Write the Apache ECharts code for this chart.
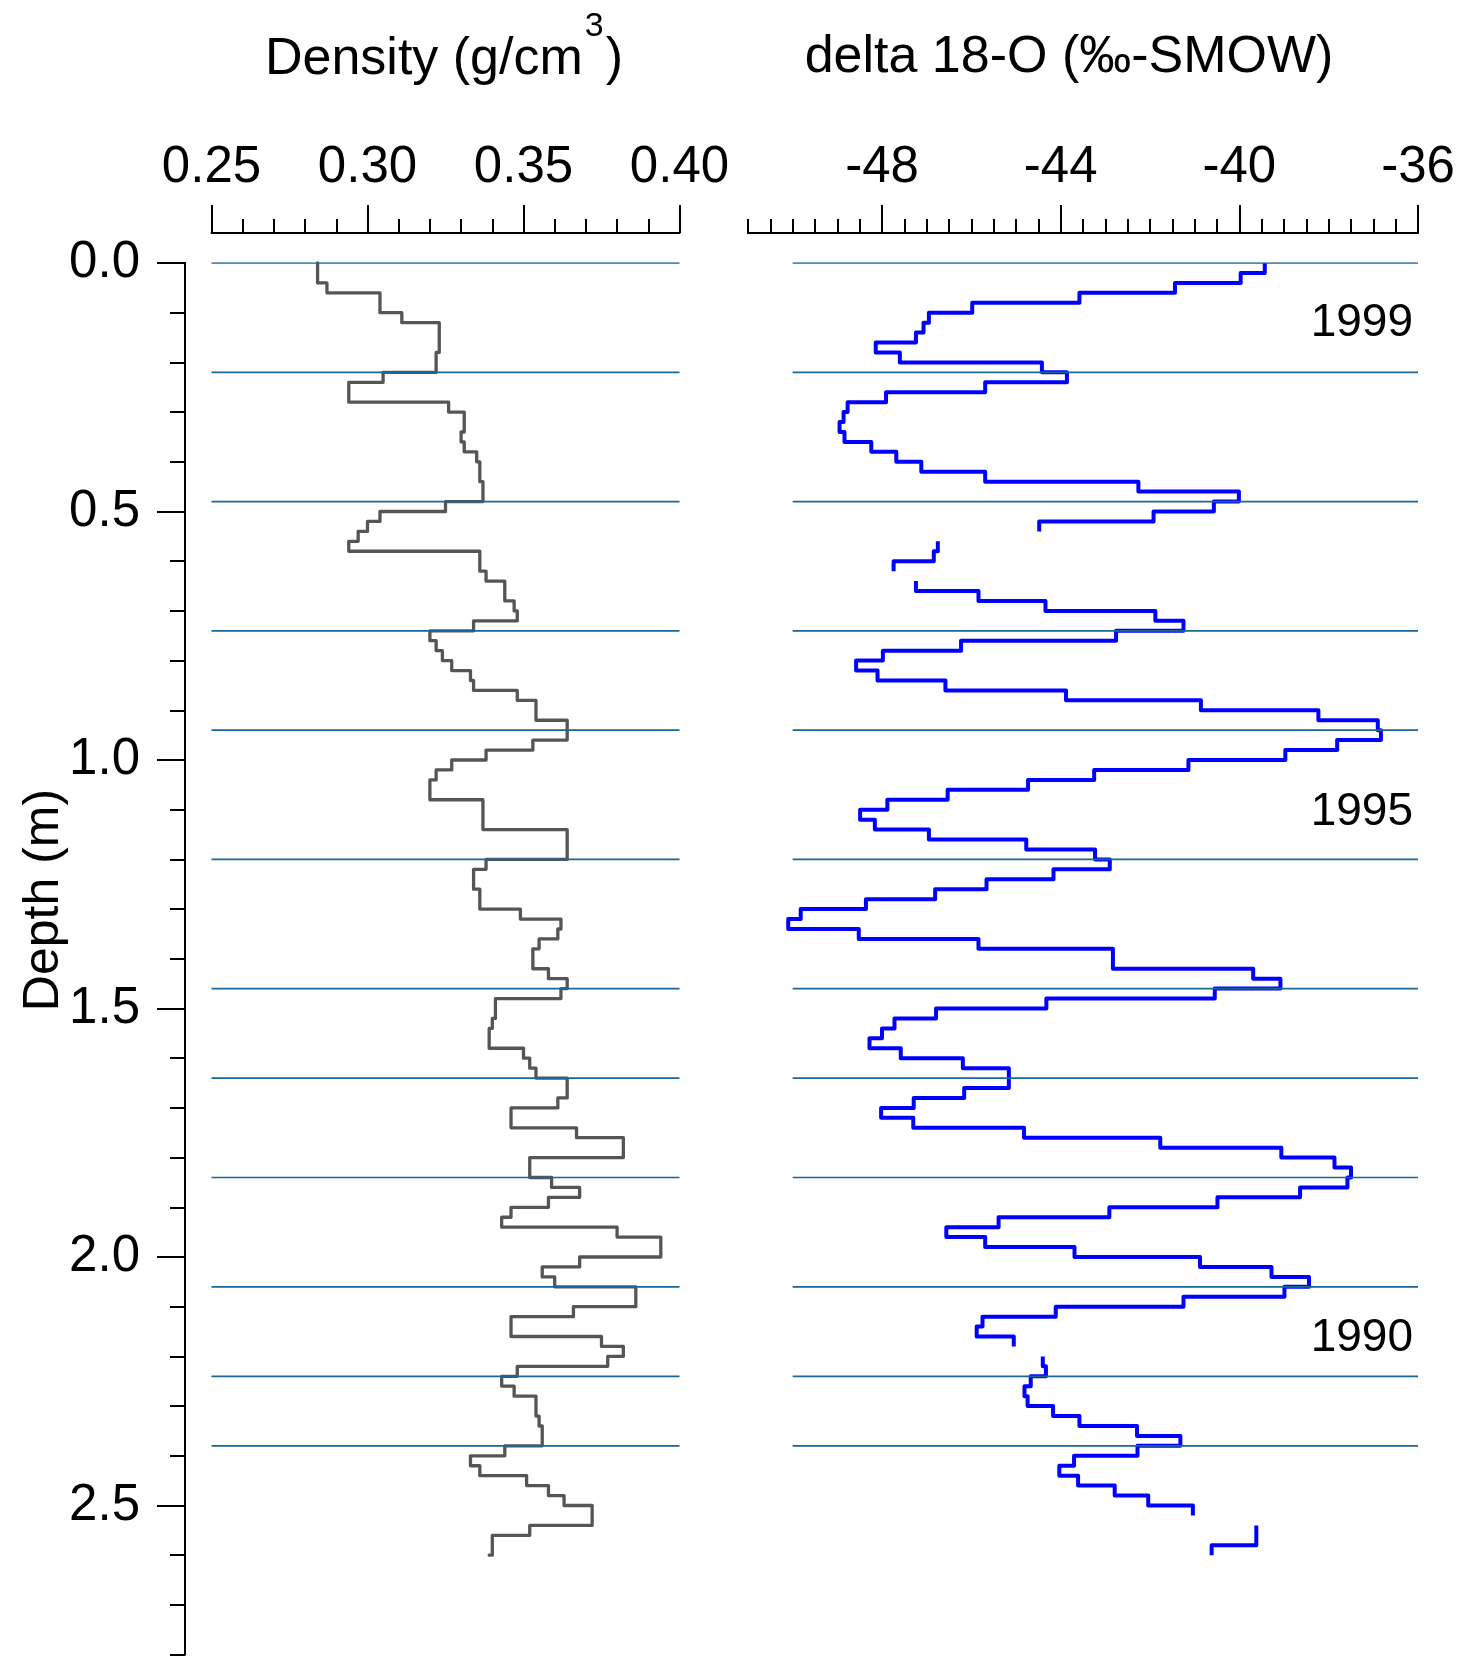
<!DOCTYPE html>
<html>
<head>
<meta charset="utf-8">
<title>Firn core profile: density and delta 18-O</title>
<script src="https://cdn.jsdelivr.net/npm/echarts@6/dist/echarts.min.js"></script>
<style>
  html, body { margin: 0; padding: 0; background: #ffffff; }
  #chart { width: 1459px; height: 1656px; }
</style>
</head>
<body>
<div id="chart"></div>
<script>
// Density profile: top depth of each sample interval (m) and its density (g/cm3).
const densityTop = [
  0.00, 0.04, 0.06, 0.10, 0.12, 0.18, 0.22, 0.24, 0.28, 0.30,
  0.34, 0.36, 0.38, 0.40, 0.44, 0.48, 0.50, 0.52, 0.54, 0.56,
  0.58, 0.62, 0.64, 0.68, 0.70, 0.72, 0.74, 0.76, 0.78, 0.80,
  0.82, 0.84, 0.86, 0.88, 0.92, 0.96, 0.98, 1.00, 1.02, 1.04,
  1.08, 1.14, 1.20, 1.22, 1.26, 1.30, 1.32, 1.34, 1.36, 1.38,
  1.42, 1.44, 1.46, 1.48, 1.52, 1.54, 1.58, 1.60, 1.62, 1.64,
  1.68, 1.70, 1.74, 1.76, 1.80, 1.84, 1.86, 1.88, 1.90, 1.92,
  1.94, 1.96, 2.00, 2.02, 2.04, 2.06, 2.10, 2.12, 2.16, 2.18,
  2.20, 2.22, 2.24, 2.26, 2.28, 2.32, 2.34, 2.38, 2.40, 2.42,
  2.44, 2.46, 2.48, 2.50, 2.54, 2.56, 2.60
];
const densityValue = [
  0.284, 0.287, 0.304, 0.311, 0.323, 0.322, 0.305, 0.294, 0.326, 0.331,
  0.330, 0.331, 0.335, 0.336, 0.337, 0.325, 0.304, 0.300, 0.297, 0.294,
  0.336, 0.338, 0.344, 0.347, 0.348, 0.334, 0.320, 0.322, 0.324, 0.327,
  0.333, 0.334, 0.348, 0.354, 0.364, 0.353, 0.338, 0.327, 0.322, 0.320,
  0.337, 0.364, 0.338, 0.334, 0.336, 0.349, 0.362, 0.361, 0.355, 0.353,
  0.358, 0.364, 0.362, 0.341, 0.340, 0.339, 0.350, 0.352, 0.354, 0.364,
  0.361, 0.346, 0.367, 0.382, 0.352, 0.359, 0.368, 0.358, 0.346, 0.343,
  0.380, 0.394, 0.368, 0.356, 0.360, 0.386, 0.366, 0.346, 0.375, 0.382,
  0.377, 0.348, 0.343, 0.347, 0.354, 0.355, 0.356, 0.344, 0.333, 0.336,
  0.351, 0.358, 0.363, 0.372, 0.352, 0.340, 0.339
];
const densityBottom = 2.60;

// delta 18-O profile (per mil vs SMOW); null marks a missing sample.
const deltaTop = [
  0.00, 0.02, 0.04, 0.06, 0.08, 0.10, 0.12, 0.14, 0.16, 0.18,
  0.20, 0.22, 0.24, 0.26, 0.28, 0.30, 0.32, 0.34, 0.36, 0.38,
  0.40, 0.42, 0.44, 0.46, 0.48, 0.50, 0.52, 0.54, 0.56, 0.58,
  0.60, 0.62, 0.64, 0.66, 0.68, 0.70, 0.72, 0.74, 0.76, 0.78,
  0.80, 0.82, 0.84, 0.86, 0.88, 0.90, 0.92, 0.94, 0.96, 0.98,
  1.00, 1.02, 1.04, 1.06, 1.08, 1.10, 1.12, 1.14, 1.16, 1.18,
  1.20, 1.22, 1.24, 1.26, 1.28, 1.30, 1.32, 1.34, 1.36, 1.38,
  1.42, 1.44, 1.46, 1.48, 1.50, 1.52, 1.54, 1.56, 1.58, 1.60,
  1.62, 1.66, 1.68, 1.70, 1.72, 1.74, 1.76, 1.78, 1.80, 1.82,
  1.84, 1.86, 1.88, 1.90, 1.92, 1.94, 1.96, 1.98, 2.00, 2.02,
  2.04, 2.06, 2.08, 2.10, 2.12, 2.14, 2.16, 2.18, 2.20, 2.22,
  2.24, 2.26, 2.28, 2.30, 2.32, 2.34, 2.36, 2.38, 2.40, 2.42,
  2.44, 2.46, 2.48, 2.50, 2.52, 2.54, 2.58
];
const deltaValue = [
  -39.43, -39.97, -41.44, -43.58, -45.98, -46.95, -47.07, -47.24, -48.14, -47.60,
  -44.42, -43.86, -45.69, -47.91, -48.77, -48.86, -48.95, -48.84, -48.24, -47.68,
  -47.12, -45.69, -42.26, -40.01, -40.57, -41.92, -44.48, null, -46.75, -46.84,
  -47.74, null, -47.24, -45.84, -44.34, -41.88, -41.25, -42.76, -46.23, -47.98,
  -48.58, -48.10, -46.58, -43.88, -40.86, -38.23, -36.90, -36.83, -37.81, -38.97,
  -41.14, -43.25, -44.73, -46.53, -47.88, -48.49, -48.16, -46.95, -44.77, -43.23,
  -42.90, -44.16, -45.66, -46.81, -48.36, -49.82, -50.10, -48.52, -45.84, -42.83,
  -39.69, -39.08, -40.55, -44.32, -46.79, -47.72, -48.00, -48.28, -47.58, -46.19,
  -45.16, -46.16, -47.29, -48.02, -47.30, -44.82, -41.77, -39.06, -37.87, -37.50,
  -37.58, -38.64, -40.49, -42.91, -45.39, -46.56, -45.69, -43.69, -40.88, -39.28,
  -38.44, -38.99, -41.25, -44.11, -45.75, -45.88, -45.05, null, -44.40, -44.33,
  -44.67, -44.81, -44.74, -44.17, -43.58, -42.29, -41.32, -42.28, -43.70, -44.03,
  -43.61, -42.79, -42.04, -41.04, null, -39.62, -40.62
];
const deltaBottom = 2.60;

// Annual layer boundaries (m) drawn across both panels.
const layerDepths = [0.00, 0.22, 0.48, 0.74, 0.94, 1.20, 1.46, 1.64, 1.84, 2.06, 2.24, 2.38];

// Year annotations in the isotope panel.
const yearNames = ['1999', '1995', '1990'];
const yearDepths = [0.122, 1.106, 2.163];

// Axis tick labels.
const densityTicks = [0.25, 0.30, 0.35, 0.40];
const deltaTicks = [-48, -44, -40, -36];
const depthTicks = [0.0, 0.5, 1.0, 1.5, 2.0, 2.5];

const FONT = '"Liberation Sans", Arial, Helvetica, sans-serif';
const GAP = ['-', '-'];

// Turn interval tops/values into a stepped depth profile.
function stepProfile(tops, values, bottom) {
  const pts = [];
  for (let i = 0; i < tops.length; i++) {
    const v = values[i];
    const lo = i + 1 < tops.length ? tops[i + 1] : bottom;
    if (v === null) { pts.push(GAP); continue; }
    pts.push([v, tops[i]]);
    pts.push([v, lo]);
  }
  return pts;
}

// Horizontal layer lines between two x values.
function layerLines(x0, x1) {
  const pts = [];
  layerDepths.forEach(function (d) {
    pts.push([x0, d], [x1, d], GAP);
  });
  return pts;
}

const axisLineStyle = { color: '#000', width: 2 };
const axisLine = { show: true, onZero: false, lineStyle: axisLineStyle };

const chart = echarts.init(document.getElementById('chart'), null, { renderer: 'canvas' });

chart.setOption({
  animation: false,
  backgroundColor: '#ffffff',
  textStyle: { fontFamily: FONT },
  grid: [
    { left: 211.5, top: 263, width: 468, height: 1391.6, containLabel: false },
    { left: 748, top: 263, width: 670, height: 1391.6, containLabel: false }
  ],
  xAxis: [
    {
      gridIndex: 0, type: 'value', position: 'top', offset: 30,
      min: 0.25, max: 0.40, interval: 0.05,
      axisLine: axisLine,
      axisTick: { show: true, inside: false, length: 28, lineStyle: axisLineStyle },
      minorTick: { show: true, splitNumber: 5, length: 14, lineStyle: axisLineStyle },
      axisLabel: {
        show: true, margin: 40, fontSize: 51, color: '#000', fontFamily: FONT,
        formatter: function (v) { return v.toFixed(2); }
      },
      splitLine: { show: false }, minorSplitLine: { show: false }
    },
    {
      gridIndex: 1, type: 'value', position: 'top', offset: 30,
      min: -51, max: -36, interval: 0.5,
      axisLine: axisLine,
      axisTick: { show: true, inside: false, length: 14, lineStyle: axisLineStyle },
      axisLabel: { show: false },
      splitLine: { show: false }
    },
    {
      gridIndex: 1, type: 'value', position: 'top', offset: 30,
      min: -51, max: -36,
      axisLine: axisLine,
      axisTick: { show: true, inside: false, length: 28, lineStyle: axisLineStyle, customValues: deltaTicks },
      axisLabel: {
        show: true, margin: 40, fontSize: 51, color: '#000', fontFamily: FONT,
        customValues: deltaTicks,
        formatter: function (v) { return String(v); }
      },
      splitLine: { show: false }
    }
  ],
  yAxis: [
    {
      gridIndex: 0, type: 'value', inverse: true, position: 'left', offset: 26.5,
      min: 0, max: 2.8,
      axisLine: axisLine,
      axisTick: { show: true, inside: false, length: 28, lineStyle: axisLineStyle, customValues: depthTicks },
      axisLabel: {
        show: true, margin: 45, fontSize: 51, color: '#000', fontFamily: FONT,
        customValues: depthTicks,
        formatter: function (v) { return v.toFixed(1); }
      },
      splitLine: { show: false }
    },
    {
      gridIndex: 0, type: 'value', inverse: true, position: 'left', offset: 26.5,
      min: 0, max: 2.8, interval: 0.1,
      axisLine: axisLine,
      axisTick: { show: true, inside: false, length: 15, lineStyle: axisLineStyle },
      axisLabel: { show: false },
      splitLine: { show: false }
    },
    {
      gridIndex: 1, type: 'value', inverse: true, min: 0, max: 2.8, show: false,
      axisLine: { onZero: false }
    }
  ],
  series: [
    {
      name: 'Density', type: 'line', xAxisIndex: 0, yAxisIndex: 0,
      data: stepProfile(densityTop, densityValue, densityBottom),
      symbol: 'none', connectNulls: false, clip: false, z: 2,
      lineStyle: { color: '#555555', width: 3.3, join: 'round', cap: 'round' }
    },
    {
      name: 'delta 18-O', type: 'line', xAxisIndex: 1, yAxisIndex: 2,
      data: stepProfile(deltaTop, deltaValue, deltaBottom),
      symbol: 'none', connectNulls: false, clip: false, z: 2,
      lineStyle: { color: '#0000ff', width: 4, join: 'round', cap: 'butt' }
    },
    {
      name: 'Layers density', type: 'line', xAxisIndex: 0, yAxisIndex: 0,
      data: layerLines(0.25, 0.40),
      symbol: 'none', connectNulls: false, z: 3, silent: true,
      lineStyle: { color: '#1a6699', width: 1.7 }
    },
    {
      name: 'Layers delta', type: 'line', xAxisIndex: 1, yAxisIndex: 2,
      data: layerLines(-50, -36),
      symbol: 'none', connectNulls: false, z: 3, silent: true,
      lineStyle: { color: '#1a6699', width: 1.7 }
    },
    {
      name: 'Years', type: 'scatter', xAxisIndex: 1, yAxisIndex: 2,
      data: yearNames.map(function (n, i) { return { name: n, value: [-36, yearDepths[i]] }; }),
      symbol: 'circle', symbolSize: 0, clip: false, silent: true, z: 4,
      itemStyle: { color: '#000', opacity: 1 },
      emphasis: { disabled: true },
      label: {
        show: true, position: 'left', distance: 5, opacity: 1,
        formatter: function (p) { return p.name; },
        fontSize: 46, color: '#000000', fontFamily: FONT,
        textBorderWidth: 0
      }
    }
  ],
  graphic: [
    {
      type: 'text', x: 444, y: 60,
      style: {
        text: '{a|Density (g/cm}{s|3}{a|)}',
        align: 'center', verticalAlign: 'middle',
        rich: {
          a: { fontSize: 52, fontFamily: FONT, fill: '#000', lineHeight: 100 },
          s: { fontSize: 34, fontFamily: FONT, fill: '#000', lineHeight: 46, verticalAlign: 'top', padding: [0, 2, 0, 2] }
        }
      }
    },
    {
      type: 'text', x: 1069, y: 58,
      style: {
        text: 'delta 18-O (\u2030-SMOW)',
        align: 'center', verticalAlign: 'middle',
        fontSize: 52, fontFamily: FONT, fill: '#000'
      }
    },
    {
      type: 'text', x: 44, y: 900, rotation: Math.PI / 2,
      style: {
        text: 'Depth (m)',
        align: 'center', verticalAlign: 'middle',
        fontSize: 50, fontFamily: FONT, fill: '#000'
      }
    }
  ]
});
</script>
</body>
</html>
